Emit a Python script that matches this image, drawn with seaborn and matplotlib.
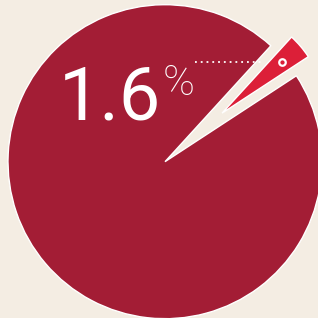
import numpy as np
import matplotlib
matplotlib.use("Agg")
import matplotlib.pyplot as plt
import seaborn as sns

# ------------------------------------------------------------------
# data
# ------------------------------------------------------------------
share_label = 1.6                 # value printed on the chart (%)
slice_shares = [4.0, 96.0]        # drawn wedge / rest of the disc (share of 360 deg)
slice_names = ["highlight", "rest"]

# ------------------------------------------------------------------
# style
# ------------------------------------------------------------------
sns.set_style("white")
plt.rcParams["font.family"] = ["Roboto", "DejaVu Sans"]

bg = "#f4ede3"
main_red = "#a31d35"
bright_red = "#dc1f38"

W = H = 318
fig = plt.figure(figsize=(W / 100, H / 100), dpi=100, facecolor=bg)
ax = fig.add_axes([0, 0, 1, 1])
ax.set_facecolor(bg)

start = 33.2
big_center = (165, H - 161.7)
big_r = 157

# main disc with a cut-out where the highlighted wedge sits
wedges, _ = ax.pie(slice_shares, startangle=start, radius=big_r, center=big_center,
                   colors=[bg, main_red], frame=True)
wedges[0].set_visible(False)

# pulled-out, shorter highlighted wedge
small_r = 103
mid = np.deg2rad(start + slice_shares[0] / sum(slice_shares) * 360 / 2)
offset = 75
small_center = (big_center[0] + offset * np.cos(mid), big_center[1] + offset * np.sin(mid))
sw, _ = ax.pie(slice_shares, startangle=start, radius=small_r, center=small_center,
               colors=[bright_red, main_red], frame=True)
sw[1].set_visible(False)

ax.set_xlim(0, W)
ax.set_ylim(0, H)
ax.set_aspect("equal")
ax.axis("off")

# marker inside the small wedge and dotted leader line
mx = small_center[0] + 0.76 * small_r * np.cos(mid)
my = small_center[1] + 0.76 * small_r * np.sin(mid)
ax.plot([195, mx - 18], [my, my], color="white", lw=1.3, ls=(0, (1, 2.2)),
        solid_capstyle="butt")
ax.scatter([mx], [my], s=22, facecolor=bright_red, edgecolor="white", linewidth=1.6, zorder=5)

# label
ax.text(59, H - 119, f"{share_label:.1f}", color="white", fontsize=53,
        fontweight="normal", ha="left", va="baseline")
ax.text(163, H - 95, "%", color="white", fontsize=31,
        fontweight="light", ha="left", va="baseline")

fig.savefig("out.png", dpi=100, facecolor=bg)
